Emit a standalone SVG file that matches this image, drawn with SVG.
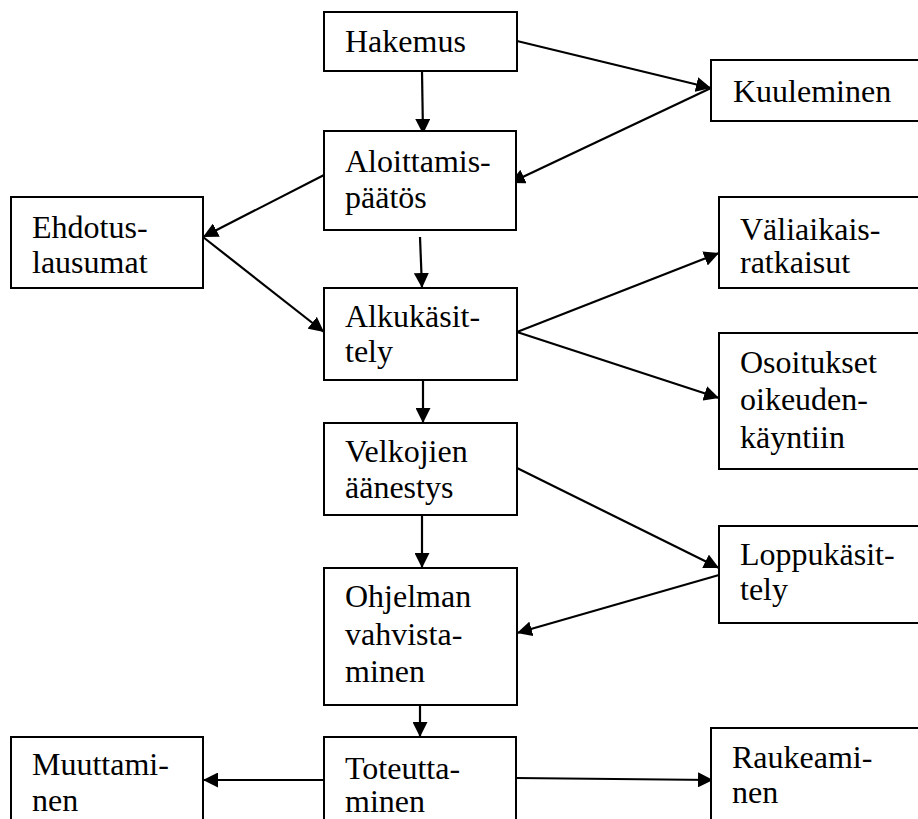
<svg xmlns="http://www.w3.org/2000/svg" width="918" height="819" viewBox="0 0 918 819">
<defs>
<style>
.box{fill:#fff;stroke:#000;stroke-width:2}
.c{stroke:#000;stroke-width:2.2;fill:none;marker-end:url(#ah)}
</style>
<marker id="ah" markerUnits="userSpaceOnUse" markerWidth="16" markerHeight="15" refX="15" refY="7.5" orient="auto">
<path d="M0,0 L15,7.5 L0,15 z" fill="#000"/>
</marker>
</defs>
<rect width="918" height="819" fill="#fff"/>
<g id="connectors">
<line class="c" x1="422" y1="71" x2="423" y2="134"/>
<line class="c" x1="517" y1="41" x2="711" y2="88"/>
<line class="c" x1="711" y1="88" x2="510" y2="183"/>
<line class="c" x1="324" y1="175" x2="203" y2="237"/>
<line class="c" x1="203" y1="237" x2="324" y2="332"/>
<line class="c" x1="420" y1="237" x2="422" y2="288"/>
<line class="c" x1="517" y1="332" x2="719" y2="253"/>
<line class="c" x1="517" y1="332" x2="719" y2="398"/>
<line class="c" x1="423" y1="380" x2="423" y2="423"/>
<line class="c" x1="422" y1="515" x2="422" y2="568"/>
<line class="c" x1="517" y1="468" x2="719" y2="568"/>
<line class="c" x1="719" y1="575" x2="517" y2="633"/>
<line class="c" x1="420" y1="705" x2="420" y2="737"/>
<line class="c" x1="324" y1="780" x2="203" y2="780"/>
<line class="c" x1="516" y1="778" x2="713" y2="780"/>
</g>
<g font-family="'Liberation Serif', Tinos, 'Noto Serif', 'DejaVu Serif', FreeSerif, 'Nimbus Roman', Times, serif" font-size="32" fill="#000">
<g id="hakemus"><rect class="box" x="324" y="12" width="193" height="59"/><text x="345" y="52">Hakemus</text></g>
<g id="kuuleminen"><rect class="box" x="711" y="60" width="220" height="61"/><text x="733" y="102">Kuuleminen</text></g>
<g id="aloittamis"><rect class="box" x="324" y="131" width="192" height="99"/><text x="345" y="172">Aloittamis-</text><text x="345" y="208">päätös</text></g>
<g id="ehdotus"><rect class="box" x="11" y="197" width="192" height="91"/><text x="32" y="238">Ehdotus-</text><text x="32" y="273">lausumat</text></g>
<g id="valiaikais"><rect class="box" x="719" y="197" width="210" height="91"/><text x="740" y="240">Väliaikais-</text><text x="740" y="273">ratkaisut</text></g>
<g id="alkukasittely"><rect class="box" x="324" y="288" width="193" height="92"/><text x="345" y="327">Alkukäsit-</text><text x="345" y="362">tely</text></g>
<g id="osoitukset"><rect class="box" x="719" y="333" width="210" height="136"/><text x="740" y="373">Osoitukset</text><text x="740" y="410">oikeuden-</text><text x="740" y="448">käyntiin</text></g>
<g id="velkojien"><rect class="box" x="324" y="423" width="193" height="92"/><text x="345" y="462">Velkojien</text><text x="345" y="498">äänestys</text></g>
<g id="loppukasittely"><rect class="box" x="719" y="526" width="210" height="97"/><text x="740" y="565">Loppukäsit-</text><text x="740" y="600">tely</text></g>
<g id="ohjelman"><rect class="box" x="324" y="568" width="193" height="137"/><text x="345" y="607">Ohjelman</text><text x="345" y="645">vahvista-</text><text x="345" y="682">minen</text></g>
<g id="muuttaminen"><rect class="box" x="11" y="737" width="192" height="100"/><text x="32" y="775">Muuttami-</text><text x="32" y="811">nen</text></g>
<g id="toteuttaminen"><rect class="box" x="324" y="737" width="192" height="100"/><text x="345" y="779">Toteutta-</text><text x="345" y="812">minen</text></g>
<g id="raukeaminen"><rect class="box" x="711" y="728" width="220" height="100"/><text x="732" y="768">Raukeami-</text><text x="732" y="803">nen</text></g>
</g>
</svg>
